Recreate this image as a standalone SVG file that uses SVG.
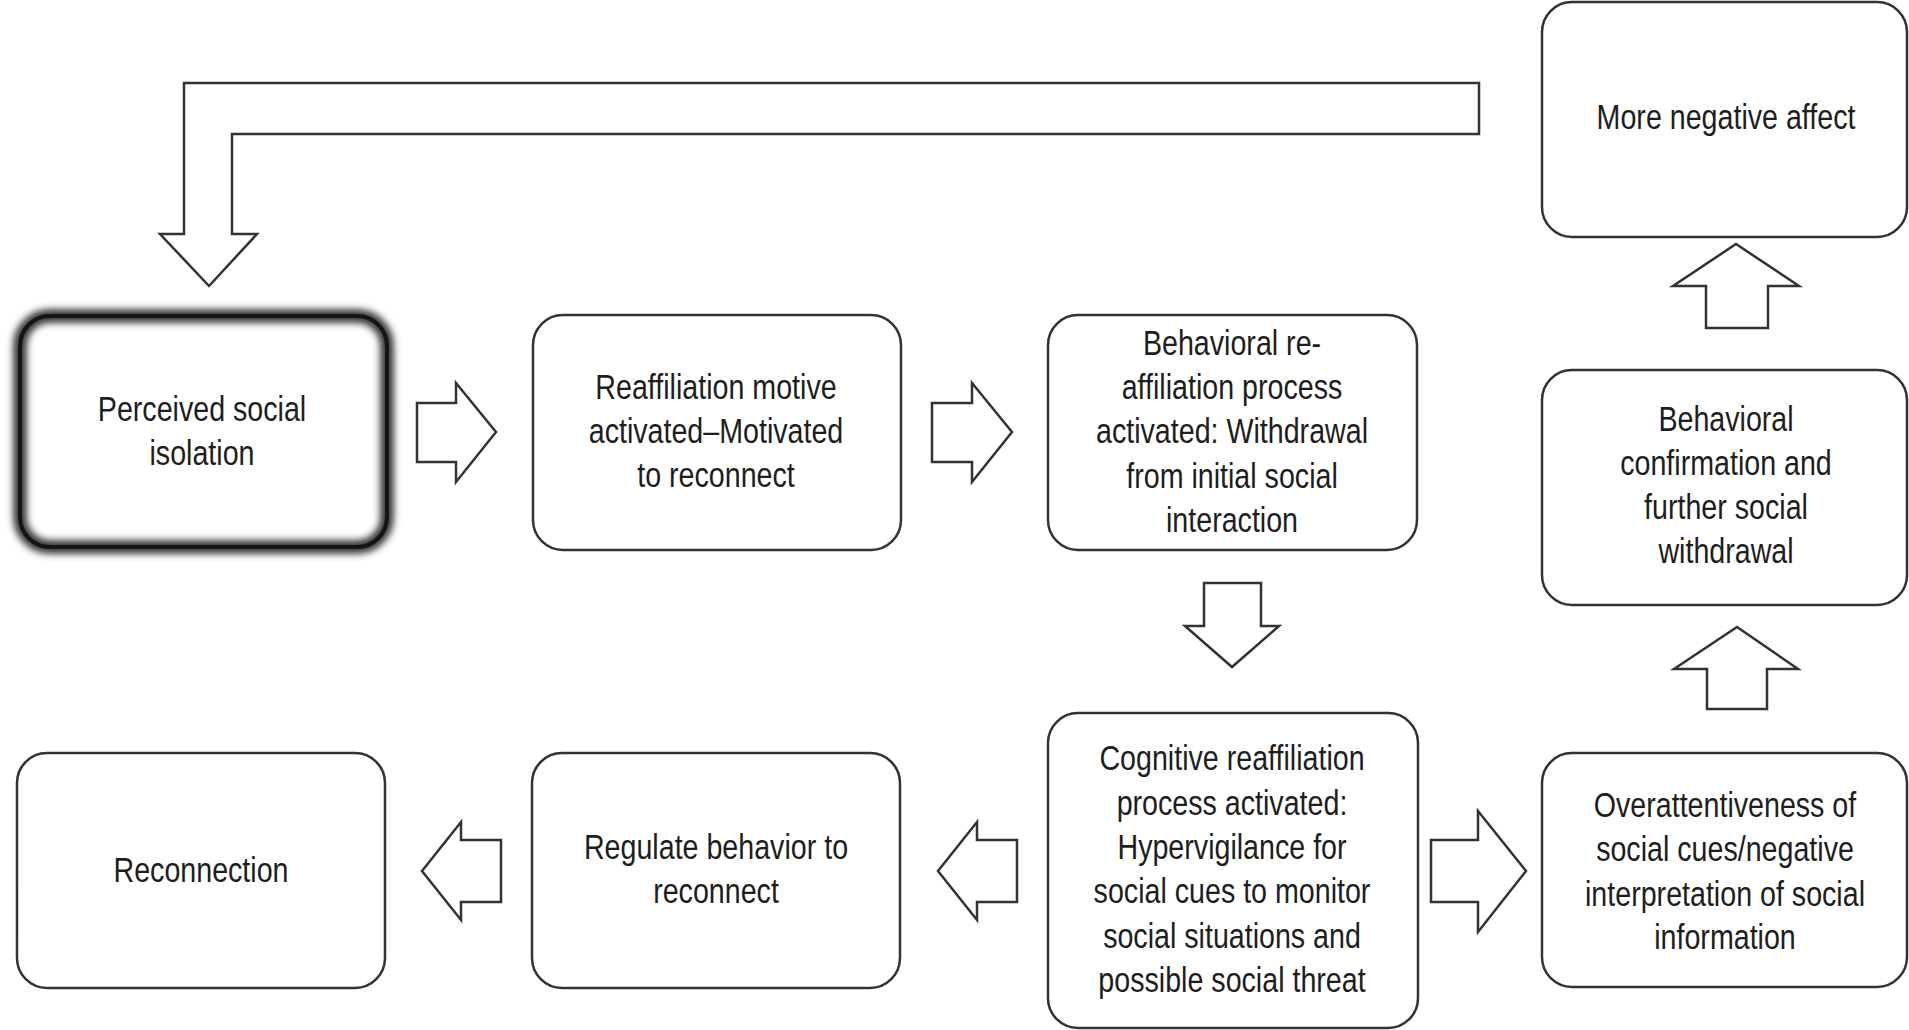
<svg xmlns="http://www.w3.org/2000/svg" width="1909" height="1030" viewBox="0 0 1909 1030">
<defs>
<style>
.box{fill:#fff;stroke:#333;stroke-width:2.5}
.arr{fill:#fff;stroke:#333;stroke-width:2.5;stroke-linejoin:miter}
text{font-family:"Liberation Sans",Arial,sans-serif;font-size:34.5px;fill:#1e1e1e;text-anchor:middle}
</style>
<filter id="glow" x="-10%" y="-10%" width="120%" height="120%">
<feGaussianBlur stdDeviation="3.5"/>
</filter>
</defs>
<rect width="1909" height="1030" fill="#fff"/>
<g id="connectors">
<polygon class="arr" points="1479,83 184,83 184,234 160,234 209,286 257,234 232,234 232,134 1479,134"/>
<polygon class="arr" points="417,403 456,403 456,383 496,432 456,482 456,462 417,462"/>
<polygon class="arr" points="932,403 972,403 972,383 1012,432 972,482 972,462 932,462"/>
<polygon class="arr" points="1204,583 1261,583 1261,626 1279,626 1232,667 1185,626 1204,626"/>
<polygon class="arr" points="1431,840 1478,840 1478,811 1526,871 1478,932 1478,902 1431,902"/>
<polygon class="arr" points="1017,840 977,840 977,822 938,871 977,920 977,902 1017,902"/>
<polygon class="arr" points="501,840 461,840 461,822 422,871 461,920 461,902 501,902"/>
<polygon class="arr" points="1706,328 1768,328 1768,286 1799,286 1736,244 1673,286 1706,286"/>
<polygon class="arr" points="1707,709 1767,709 1767,669 1798,669 1737,627 1674,669 1707,669"/>
</g>
<g id="n-perceived">
<rect x="20" y="316" width="367" height="231" rx="30" fill="#fff"/>
<rect x="20" y="316" width="367" height="231" rx="30" fill="none" stroke="#3a3a3a" stroke-width="14" filter="url(#glow)"/>
<rect x="20" y="316" width="367" height="231" rx="30" fill="none" stroke="#151515" stroke-width="4"/>
<g transform="translate(202 0) scale(0.83 1)">
<text x="0" y="421">Perceived social</text>
<text x="0" y="465">isolation</text>
</g>
</g>
<g id="n-reaffiliation">
<rect class="box" x="533" y="315" width="368" height="235" rx="30"/>
<g transform="translate(716 0) scale(0.83 1)">
<text x="0" y="399">Reaffiliation motive</text>
<text x="0" y="443">activated–Motivated</text>
<text x="0" y="487">to reconnect</text>
</g>
</g>
<g id="n-behavioral">
<rect class="box" x="1048" y="315" width="369" height="235" rx="30"/>
<g transform="translate(1232 0) scale(0.83 1)">
<text x="0" y="355">Behavioral re-</text>
<text x="0" y="399">affiliation process</text>
<text x="0" y="443">activated: Withdrawal</text>
<text x="0" y="488">from initial social</text>
<text x="0" y="532">interaction</text>
</g>
</g>
<g id="n-negative">
<rect class="box" x="1542" y="2" width="365" height="235" rx="30"/>
<g transform="translate(1726 0) scale(0.83 1)">
<text x="0" y="129">More negative affect</text>
</g>
</g>
<g id="n-confirmation">
<rect class="box" x="1542" y="370" width="365" height="235" rx="30"/>
<g transform="translate(1726 0) scale(0.83 1)">
<text x="0" y="431">Behavioral</text>
<text x="0" y="475">confirmation and</text>
<text x="0" y="519">further social</text>
<text x="0" y="563">withdrawal</text>
</g>
</g>
<g id="n-cognitive">
<rect class="box" x="1048" y="713" width="370" height="315" rx="30"/>
<g transform="translate(1232 0) scale(0.83 1)">
<text x="0" y="770">Cognitive reaffiliation</text>
<text x="0" y="815">process activated:</text>
<text x="0" y="859">Hypervigilance for</text>
<text x="0" y="903">social cues to monitor</text>
<text x="0" y="948">social situations and</text>
<text x="0" y="992">possible social threat</text>
</g>
</g>
<g id="n-overattentive">
<rect class="box" x="1542" y="753" width="365" height="234" rx="30"/>
<g transform="translate(1725 0) scale(0.83 1)">
<text x="0" y="817">Overattentiveness of</text>
<text x="0" y="861">social cues/negative</text>
<text x="0" y="906">interpretation of social</text>
<text x="0" y="949">information</text>
</g>
</g>
<g id="n-regulate">
<rect class="box" x="532" y="753" width="368" height="235" rx="30"/>
<g transform="translate(716 0) scale(0.83 1)">
<text x="0" y="859">Regulate behavior to</text>
<text x="0" y="903">reconnect</text>
</g>
</g>
<g id="n-reconnection">
<rect class="box" x="17" y="753" width="368" height="235" rx="30"/>
<g transform="translate(201 0) scale(0.83 1)">
<text x="0" y="882">Reconnection</text>
</g>
</g>
</svg>
